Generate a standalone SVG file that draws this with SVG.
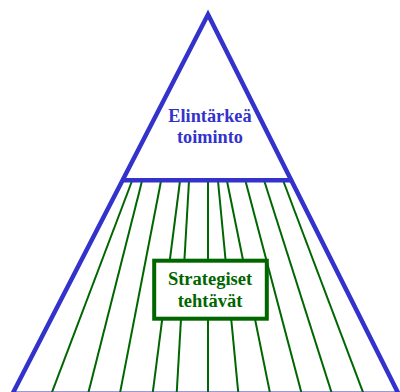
<svg xmlns="http://www.w3.org/2000/svg" width="400" height="392" viewBox="0 0 400 392">
<style>
.tri{fill:none;stroke:#3333cc;stroke-width:4.5;stroke-linejoin:miter}
.ray{stroke:#006600;stroke-width:2;fill:none}
.lbl{font-weight:bold;text-anchor:middle}
</style>
<rect width="400" height="392" fill="#ffffff"/>
<g id="connectors">
<line class="ray" x1="132" y1="181" x2="51.7" y2="393"/>
<line class="ray" x1="142" y1="181" x2="88.3" y2="393"/>
<line class="ray" x1="161" y1="181" x2="120" y2="393"/>
<line class="ray" x1="180" y1="181" x2="152.7" y2="393"/>
<line class="ray" x1="189" y1="181" x2="176.7" y2="393"/>
<line class="ray" x1="208" y1="181" x2="208" y2="393"/>
<line class="ray" x1="218" y1="181" x2="238.3" y2="393"/>
<line class="ray" x1="227" y1="181" x2="270" y2="393"/>
<line class="ray" x1="245.5" y1="181" x2="301.5" y2="393"/>
<line class="ray" x1="264.3" y1="181" x2="331.7" y2="393"/>
<line class="ray" x1="283.3" y1="181" x2="363.3" y2="393"/>
</g>
<g id="pyramid">
<polygon class="tri" points="208,14.5 12.5,393.8 398.5,393.8"/>
<line x1="121" y1="180.3" x2="293" y2="180.3" stroke="#3333cc" stroke-width="4.5"/>
</g>
<g id="elintarkea">
<text class="lbl" font-family="'Liberation Serif', 'Times New Roman', serif" x="210" y="121.5" font-size="18.3" fill="#3333cc">Elintärkeä</text>
<text class="lbl" font-family="'Liberation Serif', 'Times New Roman', serif" x="210" y="143.3" font-size="18.3" fill="#3333cc">toiminto</text>
</g>
<g id="strategiset">
<rect x="154.2" y="260.7" width="112.6" height="58" fill="#ffffff" stroke="#006600" stroke-width="4"/>
<text class="lbl" font-family="'Liberation Serif', 'Times New Roman', serif" x="210" y="285" font-size="18.5" fill="#006600">Strategiset</text>
<text class="lbl" font-family="'Liberation Serif', 'Times New Roman', serif" x="210" y="306.7" font-size="18.5" fill="#006600">tehtävät</text>
</g>
</svg>
